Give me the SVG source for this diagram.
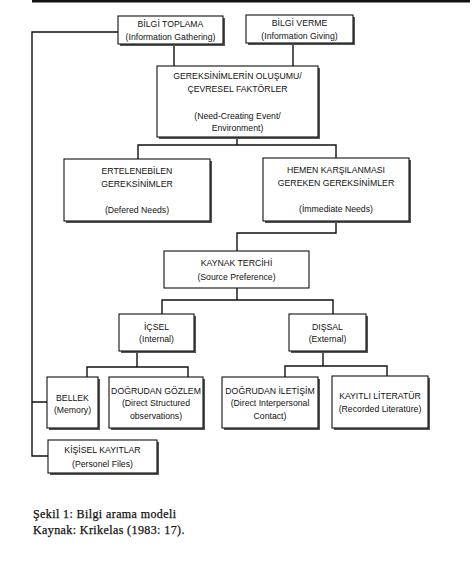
<svg xmlns="http://www.w3.org/2000/svg" width="474" height="561" viewBox="0 0 474 561">
<style>
.box{fill:#fff;stroke:#111;stroke-width:1.1}
.sh{fill:#555}
.t{font-family:"Liberation Sans",Arial,sans-serif;font-size:8.7px;fill:#111;text-anchor:middle}
.c{fill:none;stroke:#111;stroke-width:1.4}
.cap{font-family:"Liberation Serif","Times New Roman",serif;font-size:12px;letter-spacing:0.4px;fill:#111;stroke:#111;stroke-width:0.25}
</style>
<rect width="474" height="561" fill="#fff"/>
<rect x="32" y="0" width="438" height="2.5" fill="#111"/>
<g id="connectors">
<path class="c" d="M118 32H32V456H48M32 402H47"/>
<path class="c" d="M174 44V66M293 43V66"/>
<path class="c" d="M237 137V145M138 160V145H336V158"/>
<path class="c" d="M336 221V233H237V251"/>
<path class="c" d="M237 288V300M162 314V300H333V314"/>
<path class="c" d="M137 351V367M87 377V367H188V377"/>
<path class="c" d="M323 351V366M285 377V366H387V377"/>
</g>
<g id="n1"><rect class="sh" x="120" y="18" width="105" height="28"/><rect class="box" x="118" y="16" width="105" height="28"/><text class="t" x="170.5" y="27">BİLGİ TOPLAMA</text><text class="t" x="170.5" y="40">(Information Gathering)</text></g>
<g id="n2"><rect class="sh" x="248" y="17" width="107" height="28"/><rect class="box" x="246" y="15" width="107" height="28"/><text class="t" x="299.5" y="26">BİLGİ VERME</text><text class="t" x="299.5" y="39">(Information Giving)</text></g>
<g id="n3"><rect class="sh" x="159" y="68" width="161" height="71"/><rect class="box" x="157" y="66" width="161" height="71"/><text class="t" x="237.5" y="79">GEREKSİNİMLERİN OLUŞUMU/</text><text class="t" x="237.5" y="92">ÇEVRESEL FAKTÖRLER</text><text class="t" x="237.5" y="119">(Need-Creating Event/</text><text class="t" x="237.5" y="131">Environment)</text></g>
<g id="n4"><rect class="sh" x="66" y="161" width="146" height="62"/><rect class="box" x="64" y="159" width="146" height="62"/><text class="t" x="137" y="174">ERTELENEBİLEN</text><text class="t" x="137" y="187">GEREKSİNİMLER</text><text class="t" x="137" y="213">(Defered Needs)</text></g>
<g id="n5"><rect class="sh" x="265" y="160" width="146" height="63"/><rect class="box" x="263" y="158" width="146" height="63"/><text class="t" x="336" y="173">HEMEN KARŞILANMASI</text><text class="t" x="336" y="186">GEREKEN GEREKSİNİMLER</text><text class="t" x="336" y="212">(İmmediate Needs)</text></g>
<g id="n6"><rect class="box" x="164" y="251" width="145" height="37"/><text class="t" x="236.5" y="266">KAYNAK TERCİHİ</text><text class="t" x="236.5" y="280">(Source Preference)</text></g>
<g id="n7"><rect class="sh" x="121" y="316" width="75" height="37"/><rect class="box" x="119" y="314" width="75" height="37"/><text class="t" x="156.5" y="330">İÇSEL</text><text class="t" x="156.5" y="342">(Internal)</text></g>
<g id="n8"><rect class="sh" x="291" y="316" width="77" height="37"/><rect class="box" x="289" y="314" width="77" height="37"/><text class="t" x="327.5" y="330">DIŞSAL</text><text class="t" x="327.5" y="342">(External)</text></g>
<g id="n9"><rect class="sh" x="49" y="379" width="51" height="51"/><rect class="box" x="47" y="377" width="51" height="51"/><text class="t" x="72.5" y="401">BELLEK</text><text class="t" x="72.5" y="413">(Memory)</text></g>
<g id="n10"><rect class="sh" x="111" y="379" width="94" height="51"/><rect class="box" x="109" y="377" width="94" height="51"/><text class="t" x="156" y="394">DOĞRUDAN GÖZLEM</text><text class="t" x="156" y="406">(Direct Structured</text><text class="t" x="156" y="419">observations)</text></g>
<g id="n11"><rect class="sh" x="224" y="379" width="96" height="51"/><rect class="box" x="222" y="377" width="96" height="51"/><text class="t" x="270" y="394">DOĞRUDAN İLETİŞİM</text><text class="t" x="270" y="406">(Direct Interpersonal</text><text class="t" x="270" y="419">Contact)</text></g>
<g id="n12"><rect class="sh" x="334" y="378" width="96" height="52"/><rect class="box" x="332" y="376" width="96" height="52"/><text class="t" x="380" y="399">KAYITLI LİTERATÜR</text><text class="t" x="380" y="412">(Recorded Literatüre)</text></g>
<g id="n13"><rect class="sh" x="50" y="442" width="109" height="33"/><rect class="box" x="48" y="440" width="109" height="33"/><text class="t" x="102.5" y="453">KİŞİSEL KAYITLAR</text><text class="t" x="102.5" y="467">(Personel Files)</text></g>
<text class="cap" x="33" y="518">Şekil 1: Bilgi arama modeli</text>
<text class="cap" x="33" y="534">Kaynak: Krikelas (1983: 17).</text>
</svg>
